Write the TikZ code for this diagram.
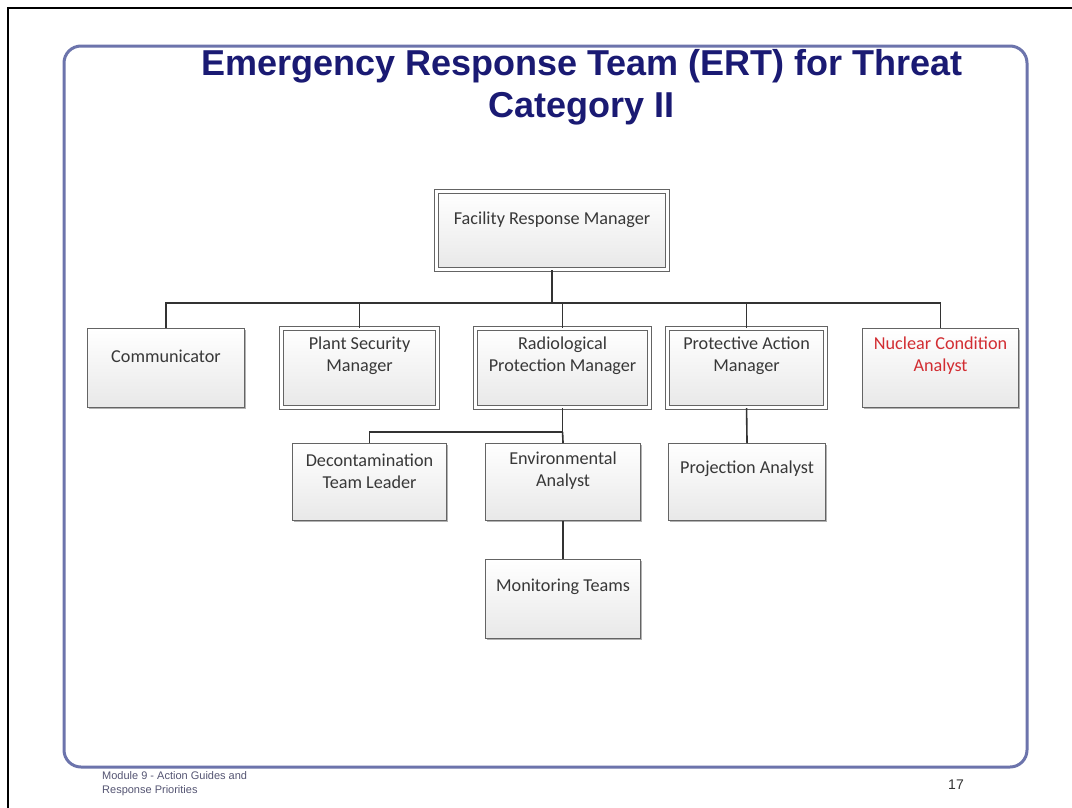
\documentclass[tikz,border=0pt]{standalone}
\usepackage{fontspec}
\setmainfont{Carlito}
\newfontfamily\arialfont{Liberation Sans}
\usetikzlibrary{shadows}
\definecolor{titleblue}{RGB}{26,26,115}
\definecolor{framblue}{RGB}{108,116,172}
\definecolor{boxline}{RGB}{100,100,100}
\definecolor{boxtext}{RGB}{56,56,56}
\definecolor{redtext}{RGB}{210,45,50}
\definecolor{footgray}{RGB}{85,85,115}
\begin{document}
\begin{tikzpicture}[x=1pt,y=-1pt,
  box/.style={draw=boxline, line width=1.1pt, rectangle, inner sep=0pt, anchor=north west,
     top color=white, bottom color=black!9,
     drop shadow={shadow xshift=1.5pt, shadow yshift=-1.5pt, opacity=0.3, fill=black}},
  dbox/.style={box, line width=1.1pt, double=white, double distance=2.6pt},
  lbl/.style={font=\fontsize{18.2}{22}\selectfont, text=boxtext, align=center, inner sep=0pt},
  conn/.style={draw=black!80, line width=1.6pt}]
\useasboundingbox (0,0) rectangle (1072,807);
\fill[white] (0,0) rectangle (1072,807);
% outer black frame (top and left visible)
\draw[line width=2pt, black] (8,809) -- (8,8) -- (1074,8);
% blue rounded frame
\draw[framblue, line width=3pt, rounded corners=17pt] (64,46) rectangle (1027,767);
% title
\node[font=\arialfont\bfseries\fontsize{36}{42}\selectfont, text=titleblue, align=center, inner sep=0pt] (title) at (582,87)
  {Emergency Response Team (ERT) for Threat\\Category II};
% boxes
\node[dbox, minimum width=231pt, minimum height=78pt] (frm) at (436,191) {};
\node[box, minimum width=157pt, minimum height=79pt] (comm) at (87,328) {};
\node[dbox, minimum width=156pt, minimum height=79pt] (psm) at (281,328) {};
\node[dbox, minimum width=174pt, minimum height=79pt] (rpm) at (475,328) {};
\node[dbox, minimum width=158pt, minimum height=79pt] (pam) at (667,328) {};
\node[box, minimum width=156pt, minimum height=79pt] (nca) at (862,328) {};
\node[box, minimum width=154pt, minimum height=77pt] (dtl) at (292,443) {};
\node[box, minimum width=155pt, minimum height=77pt] (ea) at (485,443) {};
\node[box, minimum width=157pt, minimum height=77pt] (pa) at (668,443) {};
\node[box, minimum width=155pt, minimum height=79pt] (mt) at (485,559) {};
% labels
\node[lbl] (tfrm) at ([yshift=-29pt]frm.north) {Facility Response Manager};
\node[lbl] (tcomm) at ([yshift=-28pt]comm.north) {Communicator};
\node[lbl] (tpsm) at ([yshift=-28pt]psm.north) {Plant Security\\Manager};
\node[lbl] (trpm) at ([yshift=-28pt]rpm.north) {Radiological\\Protection Manager};
\node[lbl] (tpam) at ([yshift=-28pt]pam.north) {Protective Action\\Manager};
\node[lbl, text=redtext] (tnca) at ([yshift=-28pt]nca.north) {Nuclear Condition\\Analyst};
\node[lbl] (tdtl) at ([yshift=-28pt]dtl.north) {Decontamination\\Team Leader};
\node[lbl] (tea) at ([yshift=-28pt]ea.north) {Environmental\\Analyst};
\node[lbl] (tpa) at ([yshift=-26pt]pa.north) {Projection Analyst};
\node[lbl] (tmt) at ([yshift=-28pt]mt.north) {Monitoring Teams};
% connectors
\coordinate (bar1) at (0,303);
\coordinate (bar2) at (0,432);
\draw[conn] (frm.south) -- (frm.south |- bar1) -| (comm.north);
\draw[conn] (frm.south |- bar1) -| (psm.north);
\draw[conn] (frm.south |- bar1) -| (rpm.north);
\draw[conn] (frm.south |- bar1) -| (pam.north);
\draw[conn] (frm.south |- bar1) -| (nca.north);
\draw[conn] (rpm.south) -- (rpm.south |- bar2) -| (dtl.north);
\draw[conn] (rpm.south |- bar2) -- (ea.north);
\draw[conn] (pam.south) -- (pa.north);
\draw[conn] (ea.south) -- (mt.north);
% footer
\node[font=\arialfont\fontsize{11}{14.5}\selectfont, text=footgray, align=left, anchor=north west, inner sep=0pt] (foot) at (102,771)
  {Module 9 - Action Guides and\\Response Priorities};
\node[font=\arialfont\fontsize{14}{16}\selectfont, text=black!80, inner sep=0pt] (page) at (956,785) {17};
\end{tikzpicture}
\end{document}
